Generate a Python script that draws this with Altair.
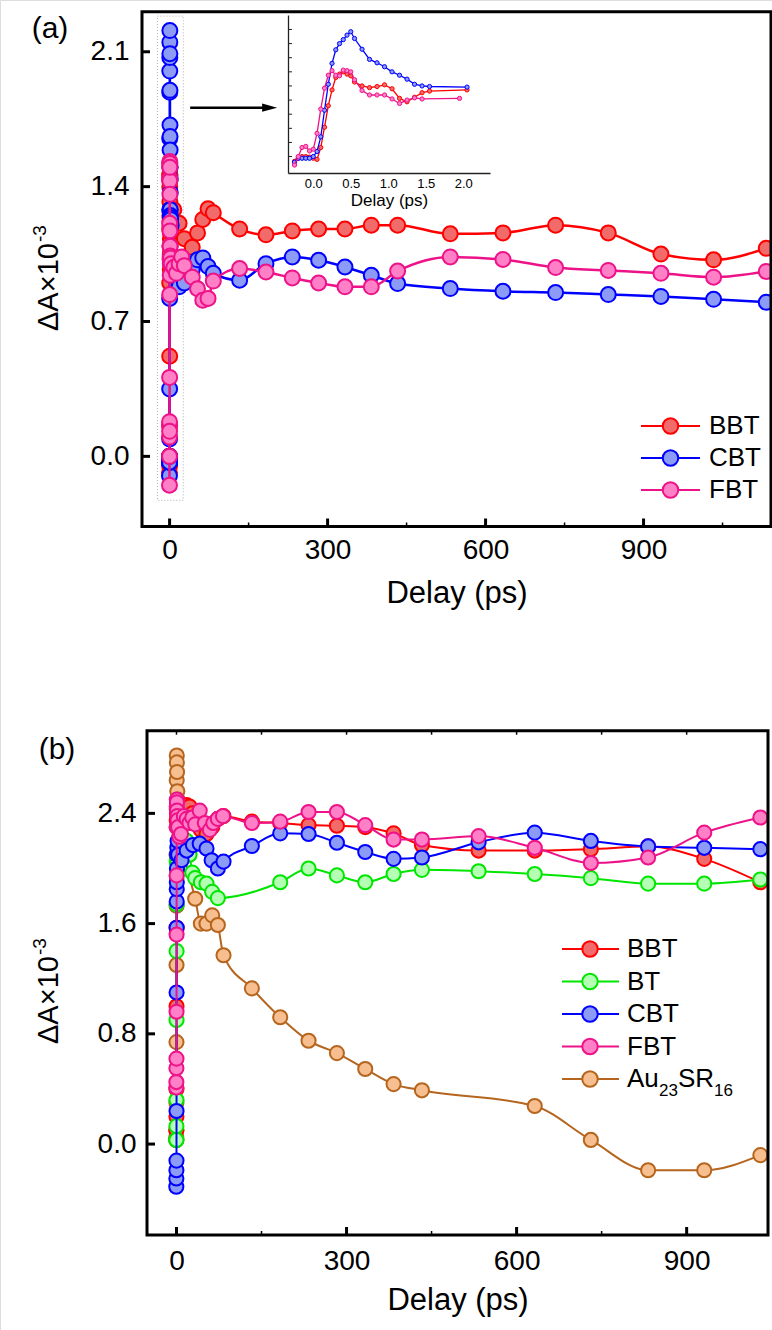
import altair as alt
import pandas as pd

FONT = "Liberation Sans"
W, H = 772, 1330

# ---------------- Panel (a) data ----------------
# early delays (ps) -- also shown in the inset
a_bbt_t_early = [-0.25, -0.2, -0.15, -0.1, -0.05, 0.0, 0.05, 0.1, 0.15, 0.2, 0.25, 0.3, 0.35, 0.4,
                 0.45, 0.5, 0.55, 0.65, 0.75, 0.85, 0.95, 1.05, 1.15, 1.25, 1.35, 1.45, 1.55, 2.05]
a_bbt_v_early = [-0.085, -0.03, 0.0, 0.0, -0.01, -0.03, -0.05, 0.16, 0.52, 0.90, 1.18, 1.40, 1.46, 1.50,
                 1.46, 1.43, 1.32, 1.25, 1.22, 1.24, 1.27, 1.20, 1.03, 0.97, 1.05, 1.13, 1.16, 1.18]
a_cbt_t_early = [-0.25, -0.2, -0.15, -0.1, -0.05, 0.0, 0.05, 0.1, 0.15, 0.2, 0.25, 0.3, 0.35, 0.4,
                 0.45, 0.5, 0.55, 0.65, 0.75, 0.85, 0.95, 1.05, 1.15, 1.25, 1.35, 1.45, 1.55, 2.05]
a_cbt_v_early = [-0.10, -0.03, -0.03, -0.03, -0.03, 0.00, 0.09, 0.35, 0.82, 1.28, 1.65, 1.89, 2.00, 2.07,
                 2.15, 2.21, 2.09, 1.90, 1.72, 1.66, 1.59, 1.50, 1.44, 1.37, 1.28, 1.25, 1.24, 1.23]
a_fbt_t_early = [-0.25, -0.2, -0.15, -0.1, -0.05, 0.0, 0.05, 0.1, 0.15, 0.2, 0.25, 0.3, 0.35, 0.4,
                 0.45, 0.5, 0.55, 0.65, 0.75, 0.85, 0.95, 1.05, 1.15, 1.25, 1.35, 1.45, 1.95]
a_fbt_v_early = [-0.15, 0.0, 0.16, 0.18, 0.10, 0.13, 0.41, 0.84, 1.21, 1.44, 1.52, 1.44, 1.43, 1.53,
                 1.52, 1.50, 1.36, 1.17, 1.09, 1.09, 1.09, 1.02, 0.94, 1.00, 1.04, 1.02, 1.03]
# later delays (ps)
a_bbt_t_late = [3, 8, 18, 28, 43, 53, 63, 73, 83, 133, 183, 233, 283, 333, 383, 433,
                533, 633, 733, 833, 933, 1033, 1133]
a_bbt_v_late = [1.22, 1.28, 1.21, 1.13, 1.085, 1.16, 1.23, 1.285, 1.265, 1.18, 1.15, 1.17, 1.18, 1.18, 1.20, 1.20,
                1.155, 1.16, 1.20, 1.16, 1.05, 1.02, 1.08]
a_cbt_t_late = [3, 8, 13, 18, 28, 43, 53, 63, 73, 83, 133, 183, 233, 283, 333, 383, 433,
                533, 633, 733, 833, 933, 1033, 1133]
a_cbt_v_late = [1.20, 1.02, 0.93, 0.88, 0.90, 0.97, 1.02, 1.03, 0.985, 0.95, 0.914, 1.0, 1.035, 1.018, 0.983, 0.94, 0.897,
                0.871, 0.857, 0.85, 0.84, 0.83, 0.815, 0.80]
a_fbt_t_late = [3, 8, 13, 18, 23, 28, 43, 53, 63, 73, 83, 133, 183, 233, 283, 333, 383, 433,
                533, 633, 733, 833, 933, 1033, 1133]
a_fbt_v_late = [1.00, 0.98, 0.95, 1.00, 1.035, 0.99, 0.93, 0.87, 0.81, 0.82, 0.91, 0.975, 0.957, 0.926, 0.90, 0.88, 0.88, 0.962,
                1.035, 1.022, 0.98, 0.965, 0.95, 0.93, 0.96]

# ---------------- Panel (b) data ----------------
b_au_t = [-0.3, -0.2, -0.1, 0.0, 0.1, 0.2, 0.3, 0.4, 0.5, 0.7, 1.0, 1.5, 2, 3, 5, 8, 13,
          33, 43, 53, 63, 73, 83, 133, 183, 233, 283, 333, 383, 433, 632, 731, 832, 931, 1030]
b_au_v = [0.05, 0.10, 0.30, 0.74, 1.30, 1.73, 2.30, 2.64, 2.82, 2.77, 2.70, 2.56, 2.50, 2.45, 2.35, 2.20, 2.10,
          1.78, 1.60, 1.60, 1.66, 1.59, 1.37, 1.13, 0.92, 0.75, 0.66, 0.545, 0.435, 0.39, 0.276, 0.03, -0.19, -0.19, -0.08]
b_bbt_t = [-0.3, -0.2, -0.1, 0.0, 0.1, 0.2, 0.3, 0.4, 0.5, 0.7, 1.0, 1.5, 2, 3, 8, 13, 18, 23, 28, 33,
           43, 53, 63, 73, 83, 133, 183, 233, 283, 333, 383, 433, 533, 632, 731, 832, 931, 1030]
b_bbt_v = [0.03, 0.10, 0.20, 0.40, 1.00, 1.57, 2.10, 2.35, 2.43, 2.45, 2.40, 2.38, 2.40, 2.42, 2.44, 2.45, 2.46, 2.45, 2.40, 2.33,
           2.28, 2.25, 2.30, 2.36, 2.38, 2.34, 2.33, 2.315, 2.31, 2.30, 2.255, 2.17, 2.13, 2.13, 2.14, 2.16, 2.07, 1.90]
b_bt_t = [-0.3, -0.2, -0.1, 0.0, 0.1, 0.2, 0.3, 0.4, 0.5, 0.7, 1.0, 1.5, 2, 3, 8, 13, 18, 23, 28, 33,
          43, 53, 63, 73, 183, 233, 283, 333, 383, 433, 533, 632, 731, 832, 931, 1030]
b_bt_v = [0.03, 0.03, 0.13, 0.32, 0.90, 1.40, 1.74, 1.95, 2.05, 2.10, 2.05, 2.00, 2.05, 2.10, 2.15, 2.18, 2.20, 2.10, 1.97, 1.93,
          1.90, 1.89, 1.83, 1.785, 1.90, 2.00, 1.95, 1.90, 1.96, 1.99, 1.98, 1.96, 1.93, 1.89, 1.89, 1.92]
b_cbt_t = [-0.3, -0.2, -0.1, 0.0, 0.1, 0.2, 0.3, 0.4, 0.5, 0.6, 0.8, 1.0, 1.5, 2, 3, 9, 18, 29, 41, 53, 62, 73, 83,
           133, 183, 233, 283, 333, 383, 433, 533, 632, 731, 832, 931, 1030]
b_cbt_v = [-0.31, -0.25, -0.19, -0.12, 0.24, 1.10, 1.57, 1.76, 1.85, 1.90, 2.00, 2.10, 2.15, 2.20, 2.10, 2.06, 2.13, 2.17, 2.18,
           2.145, 2.06, 2.00, 2.05, 2.163, 2.255, 2.25, 2.187, 2.12, 2.07, 2.08, 2.19, 2.26, 2.20, 2.16, 2.15, 2.14]
b_fbt_t = [-0.3, -0.2, -0.1, 0.0, 0.1, 0.2, 0.3, 0.4, 0.5, 0.6, 0.8, 1.0, 1.5, 2, 3, 5, 8, 13, 18, 23, 28, 33,
           41, 50, 59, 65, 73, 82, 133, 183, 233, 283, 333, 383, 433, 533, 632, 731, 832, 931, 1030]
b_fbt_v = [0.41, 0.45, 0.55, 0.62, 0.96, 1.52, 1.95, 2.30, 2.45, 2.50, 2.48, 2.42, 2.38, 2.35, 2.30, 2.23, 2.25, 2.38, 2.36,
           2.33, 2.37, 2.32, 2.42, 2.33, 2.28, 2.33, 2.36, 2.38, 2.33, 2.34, 2.41, 2.41, 2.315, 2.21, 2.21, 2.235,
           2.15, 2.04, 2.08, 2.26, 2.37]

# ---------------- axes / decorations ----------------
legend_a = ["BBT", "CBT", "FBT"]
legend_b = ["BBT", "BT", "CBT", "FBT", "Au23SR16"]
xticks_main = [0, 300, 600, 900]
xminor_a = [150, 450, 750, 1050]
xminor_b = [150, 450, 750]
xtop_b = [0, 150, 300, 450, 600, 750, 900]
yticks_a = [0.0, 0.7, 1.4, 2.1]
yticks_b = [0.0, 0.8, 1.6, 2.4]
xticks_inset = [0.0, 0.5, 1.0, 1.5, 2.0]
yticks_inset = [0.0, 0.25, 0.5, 0.75, 1.0, 1.25, 1.5, 1.75, 2.0, 2.25]
xdom_a = [-52.4, 1142]
ydom_a = [-0.364, 2.308]
xdom_i = [-0.337, 2.356]
ydom_i = [-0.291, 2.506]
xdom_b = [-52, 1043.5]
ydom_b = [-0.66, 3.0]
box_t = [-23, 26]
box_v = [-0.228, 2.285]
arrow_t = [39, 178]
arrow_head_t = [190]
arrow_v = [1.81]

STROKE = {"BBT": "#FF0000", "BT": "#00E600", "CBT": "#0000FF", "FBT": "#EE1289", "Au23SR16": "#B5651D"}
FILL = {"BBT": "#F26B6B", "BT": "#B4FFB4", "CBT": "#8C9BF5", "FBT": "#FF80C6", "Au23SR16": "#F7BE8F"}

# ---------------- scales (placed in the 772x1330 canvas) ----------------
XA = alt.Scale(domain=xdom_a, range=[142, 771], nice=False, zero=False)
YA = alt.Scale(domain=ydom_a, range=[526.5, 11.7], nice=False, zero=False)
XI = alt.Scale(domain=xdom_i, range=[288, 490], nice=False, zero=False)
YI = alt.Scale(domain=ydom_i, range=[173, 15], nice=False, zero=False)
XB = alt.Scale(domain=xdom_b, range=[147, 768], nice=False, zero=False)
YB = alt.Scale(domain=ydom_b, range=[1235, 730.7], nice=False, zero=False)

TICK_FS = 28
TITLE_FS = 31


def xaxis(offset, values, fmt, fs, pad, title, tfs, tpad, domain=False):
    return alt.Axis(orient="bottom", offset=offset, values=values, format=fmt, domain=domain,
                    domainColor="#222222", domainWidth=1.3, ticks=False, tickSize=0, grid=False,
                    labelFont=FONT, labelFontSize=fs, labelPadding=pad, labelColor="black",
                    title=title, titleFont=FONT, titleFontSize=tfs, titleFontWeight="normal",
                    titlePadding=tpad, titleColor="black")


def yaxis(offset, values, fmt, fs, pad, labels=True, domain=False):
    return alt.Axis(orient="left", offset=offset, values=values, format=fmt, domain=domain,
                    domainColor="#222222", domainWidth=1.3, ticks=False, tickSize=0, grid=False,
                    labels=labels, labelFont=FONT, labelFontSize=fs, labelPadding=pad, labelColor="black",
                    title="")


AXA_X = xaxis(526.5 - H, xticks_main, "d", TICK_FS, 10, "Delay (ps)", TITLE_FS, 14)
AXA_Y = yaxis(-142, yticks_a, ".1f", TICK_FS, 13)
AXI_X = xaxis(173 - H, xticks_inset, ".1f", 13, 4, "Delay (ps)", 17, 2, domain=True)
AXI_Y = yaxis(-288, yticks_inset, ".2f", 13, 4, labels=False, domain=True)
AXB_X = xaxis(1235 - H, xticks_main, "d", TICK_FS, 12, "Delay (ps)", TITLE_FS, 10)
AXB_Y = yaxis(-147, yticks_b, ".1f", TICK_FS, 11)


def series(t, v, name, xs, ys, xa, ya, size, lw, sw, interp):
    df = pd.DataFrame({"t": t, "v": v})
    enc = dict(x=alt.X("t:Q", scale=xs, axis=xa), y=alt.Y("v:Q", scale=ys, axis=ya))
    line = alt.Chart(df).mark_line(color=STROKE[name], strokeWidth=lw, interpolate=interp).encode(**enc)
    pts = alt.Chart(df).mark_circle(size=size, fill=FILL[name], stroke=STROKE[name],
                                    strokeWidth=sw, opacity=1).encode(**enc)
    return [line, pts]


def frame(xd, yd, xs, ys, xa, ya):
    df = pd.DataFrame({"x1": [xd[0]], "x2": [xd[1]], "y1": [yd[0]], "y2": [yd[1]]})
    return alt.Chart(df).mark_rect(fillOpacity=0, stroke="black", strokeWidth=3).encode(
        x=alt.X("x1:Q", scale=xs, axis=xa), x2="x2:Q",
        y=alt.Y("y1:Q", scale=ys, axis=ya), y2="y2:Q")


def xtick_rules(vals, xs, xa, y0, y1, w):
    return alt.Chart(pd.DataFrame({"t": vals})).mark_rule(color="black", strokeWidth=w).encode(
        x=alt.X("t:Q", scale=xs, axis=xa), y=alt.value(y0), y2=alt.value(y1))


def ytick_rules(vals, ys, ya, x0, x1, w, color="black"):
    return alt.Chart(pd.DataFrame({"v": vals})).mark_rule(color=color, strokeWidth=w).encode(
        y=alt.Y("v:Q", scale=ys, axis=ya), x=alt.value(x0), x2=alt.value(x1))


# ---------------- panel (a) ----------------
box_df = pd.DataFrame({"x1": [box_t[0]], "x2": [box_t[1]], "y1": [box_v[0]], "y2": [box_v[1]]})
box_a = alt.Chart(box_df).mark_rect(fillOpacity=0, stroke="#B0B0B0", strokeWidth=1,
                                    strokeDash=[1, 2]).encode(
    x=alt.X("x1:Q", scale=XA, axis=AXA_X), x2="x2:Q",
    y=alt.Y("y1:Q", scale=YA, axis=AXA_Y), y2="y2:Q")
arrow_df = pd.DataFrame({"t1": [arrow_t[0]], "t2": [arrow_t[1]], "v": arrow_v})
arrow_shaft = alt.Chart(arrow_df).mark_rule(color="black", strokeWidth=2.5).encode(
    x=alt.X("t1:Q", scale=XA, axis=AXA_X), x2="t2:Q", y=alt.Y("v:Q", scale=YA, axis=AXA_Y))
arrow_head = alt.Chart(pd.DataFrame({"t": arrow_head_t, "v": arrow_v})).mark_point(
    shape="M-1,-0.55L1,0L-1,0.55Z", size=225, filled=True, color="black", opacity=1).encode(
    x=alt.X("t:Q", scale=XA, axis=AXA_X), y=alt.Y("v:Q", scale=YA, axis=AXA_Y))

a_layers = [box_a, arrow_shaft, arrow_head]
for name, te, ve, tl, vl in [
    ("BBT", a_bbt_t_early, a_bbt_v_early, a_bbt_t_late, a_bbt_v_late),
    ("CBT", a_cbt_t_early, a_cbt_v_early, a_cbt_t_late, a_cbt_v_late),
    ("FBT", a_fbt_t_early, a_fbt_v_early, a_fbt_t_late, a_fbt_v_late),
]:
    a_layers += series(te + tl, ve + vl, name, XA, YA, AXA_X, AXA_Y, 225, 2.5, 2, "monotone")
a_layers += [
    xtick_rules(xticks_main, XA, AXA_X, 526.5, 518.5, 3),
    xtick_rules(xminor_a, XA, AXA_X, 526.5, 522.5, 1.5),
    ytick_rules(yticks_a, YA, AXA_Y, 142, 150, 3),
    frame(xdom_a, ydom_a, XA, YA, AXA_X, AXA_Y),
]
panel_a = alt.layer(*a_layers)

# ---------------- inset ----------------
i_layers = []
for name, te, ve in [("BBT", a_bbt_t_early, a_bbt_v_early),
                     ("CBT", a_cbt_t_early, a_cbt_v_early),
                     ("FBT", a_fbt_t_early, a_fbt_v_early)]:
    i_layers += series(te, ve, name, XI, YI, AXI_X, AXI_Y, 18, 1.3, 1, "linear")
i_layers.append(ytick_rules(yticks_inset, YI, AXI_Y, 288, 292, 1, "#222222"))
inset = alt.layer(*i_layers)

# ---------------- panel (b) ----------------
b_layers = []
for name, t, v in [("Au23SR16", b_au_t, b_au_v), ("BBT", b_bbt_t, b_bbt_v), ("BT", b_bt_t, b_bt_v),
                   ("CBT", b_cbt_t, b_cbt_v), ("FBT", b_fbt_t, b_fbt_v)]:
    b_layers += series(t, v, name, XB, YB, AXB_X, AXB_Y, 200, 2, 2, "monotone")
b_layers += [
    xtick_rules(xticks_main, XB, AXB_X, 1235, 1227, 3),
    xtick_rules(xminor_b, XB, AXB_X, 1235, 1231, 1.5),
    xtick_rules(xtop_b, XB, AXB_X, 730.7, 734.7, 1.5),
    ytick_rules(yticks_b, YB, AXB_Y, 147, 155, 3),
    frame(xdom_b, ydom_b, XB, YB, AXB_X, AXB_Y),
]
panel_b = alt.layer(*b_layers)


# ---------------- texts and legends ----------------
def txt(s, x, y, size, angle=0, align="center", baseline="middle"):
    kw = dict(font=FONT, fontSize=size, align=align, baseline=baseline, color="black")
    if angle:
        kw["angle"] = angle
    return alt.Chart(pd.DataFrame({"s": [s]})).mark_text(**kw).encode(
        text="s:N", x=alt.value(x), y=alt.value(y))


def legend_row(name, y, x1, xc, x2, xt, size, lw):
    one = pd.DataFrame({"s": [name]})
    rows = [
        alt.Chart(one).mark_rule(color=STROKE[name], strokeWidth=lw).encode(
            x=alt.value(x1), x2=alt.value(x2), y=alt.value(y)),
        alt.Chart(one).mark_circle(size=size, fill=FILL[name], stroke=STROKE[name], strokeWidth=2,
                                   opacity=1).encode(x=alt.value(xc), y=alt.value(y)),
    ]
    if name == "Au23SR16":
        rows += [txt("Au", xt, y, 26, align="left"), txt("23", xt + 32, y + 12, 17, align="left"),
                 txt("SR", xt + 51, y, 26, align="left"), txt("16", xt + 87, y + 12, 17, align="left")]
    else:
        rows.append(txt(name, xt, y, 26, align="left"))
    return rows


decos = [
    txt("(a)", 50, 29, 30), txt("(b)", 57, 750, 30),
    txt("ΔA×10", 58, 331, 29, angle=270, align="left", baseline="alphabetic"),
    txt("-3", 46, 242, 19, angle=270, align="left", baseline="alphabetic"),
    txt("ΔA×10", 58, 1044, 29, angle=270, align="left", baseline="alphabetic"),
    txt("-3", 46, 955, 19, angle=270, align="left", baseline="alphabetic"),
]
for name, y in zip(legend_a, [426, 458, 490]):
    decos += legend_row(name, y, 641, 670.5, 700, 709, 240, 2)
for name, y in zip(legend_b, [949, 981.5, 1014, 1046.5, 1079]):
    decos += legend_row(name, y, 562, 590, 619, 627, 240, 2)

chart = alt.layer(panel_a, inset, panel_b, *decos).resolve_scale(
    x="independent", y="independent"
).properties(
    width=W, height=H, autosize=alt.AutoSizeParams(type="none"), padding=0
).configure_view(strokeWidth=0).configure(background="white")

chart.save("out.html", embed_options={"renderer": "svg", "actions": False})
